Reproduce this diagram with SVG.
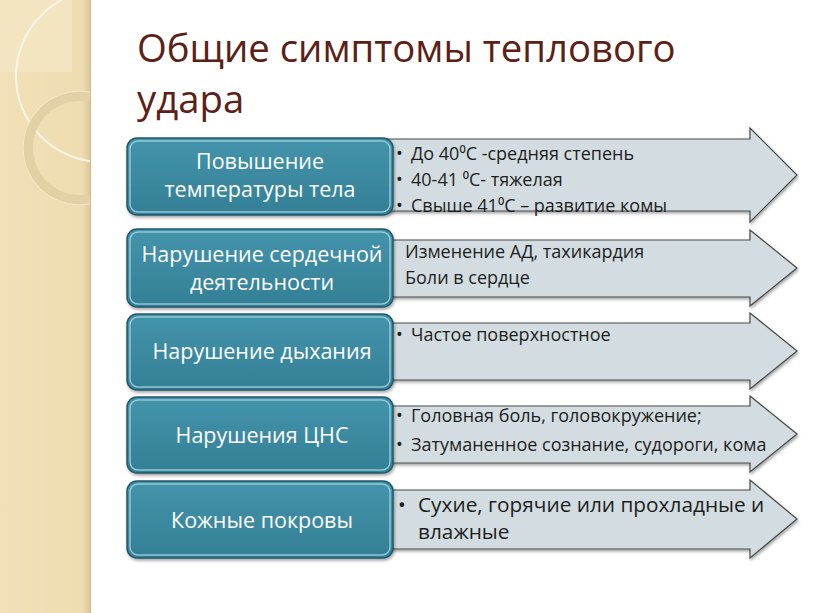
<svg xmlns="http://www.w3.org/2000/svg" width="816" height="613" viewBox="0 0 816 613">
<defs>
<linearGradient id="boxg" x1="0" y1="0" x2="0" y2="1">
<stop offset="0" stop-color="#4494ab"/>
<stop offset="1" stop-color="#337f96"/>
</linearGradient>
<linearGradient id="strip" x1="0" y1="0" x2="1" y2="0">
<stop offset="0" stop-color="#f1e0b8"/>
<stop offset="0.9" stop-color="#efdcb0"/>
<stop offset="1" stop-color="#d9c69a"/>
</linearGradient>
<clipPath id="sc"><rect x="0" y="0" width="90" height="613"/></clipPath>
<filter id="sh" x="-5%" y="-5%" width="115%" height="125%">
<feDropShadow dx="1" dy="2" stdDeviation="1.5" flood-color="#000" flood-opacity="0.35"/>
</filter>
</defs>
<style>
.box{fill:url(#boxg);stroke:#24596a;stroke-width:1.5;filter:url(#sh)}
.hl{fill:none;stroke:#a9d6e2;stroke-width:1.5;opacity:0.8}
.arr{fill:#d3dde1;stroke:#4a4a4a;stroke-width:1.2;filter:url(#sh)}
.bt{font-family:"Open Sans","Noto Sans",sans-serif;font-size:21.5px;fill:#fff;text-anchor:middle}
.at{font-family:"Open Sans","Noto Sans",sans-serif;font-size:18px;fill:#1e1e1e}
.at2{font-family:"Open Sans","Noto Sans",sans-serif;font-size:20.8px;fill:#1e1e1e}
.title{font-family:"Open Sans","Noto Sans",sans-serif;font-size:38.3px;fill:#5b2117}
</style>
<rect width="816" height="613" fill="#fff"/>
<g id="background">
<rect x="0" y="0" width="91" height="613" fill="url(#strip)"/>
<g clip-path="url(#sc)">
<rect x="0" y="0" width="72" height="72" fill="#f3e5c2"/>
<circle cx="102" cy="76" r="86" fill="none" stroke="#fbf5e6" stroke-width="2"/>
<circle cx="80" cy="148" r="52" fill="none" stroke="#e2d1a4" stroke-width="10"/>
<circle cx="80" cy="148" r="57" fill="none" stroke="#f6ebcd" stroke-width="1"/>
</g>
<line x1="90.5" y1="0" x2="90.5" y2="613" stroke="#cdb98c" stroke-width="1"/>
</g>
<g id="title">
<text class="title" x="137" y="62">Общие симптомы теплового</text>
<text class="title" x="137" y="113">удара</text>
</g>
<g id="connectors">
<path class="arr" d="M380,139 H750 V128 L797,175 L750,222 V211 H380 Z"/>
<path class="arr" d="M380,240 H750 V230 L797,268 L750,306 V297 H380 Z"/>
<path class="arr" d="M380,323 H750 V313 L797,351 L750,389 V380 H380 Z"/>
<path class="arr" d="M380,406 H750 V396 L797,434 L750,472 V463 H380 Z"/>
<path class="arr" d="M380,490 H750 V480 L797,519 L750,558 V549 H380 Z"/>
</g>
<g id="row1">
<rect class="box" x="127" y="138" width="266" height="77" rx="10"/>
<rect class="hl" x="130" y="141" width="260" height="71" rx="8"/>
<text class="bt" x="260" y="169">Повышение</text>
<text class="bt" x="260" y="197">температуры тела</text>
<text class="at" x="396" y="160">•</text><text class="at" x="411" y="160">До 40⁰С -средняя степень</text>
<text class="at" x="396" y="186">•</text><text class="at" x="411" y="186">40-41 ⁰С- тяжелая</text>
<text class="at" x="396" y="212">•</text><text class="at" x="411" y="212">Свыше 41⁰С – развитие комы</text>
</g>
<g id="row2">
<rect class="box" x="127" y="229" width="266" height="78" rx="10"/>
<rect class="hl" x="130" y="232" width="260" height="72" rx="8"/>
<text class="bt" x="262" y="262">Нарушение сердечной</text>
<text class="bt" x="262" y="290">деятельности</text>
<text class="at" x="405" y="258">Изменение АД, тахикардия</text>
<text class="at" x="405" y="284">Боли в сердце</text>
</g>
<g id="row3">
<rect class="box" x="127" y="314" width="266" height="76" rx="10"/>
<rect class="hl" x="130" y="317" width="260" height="70" rx="8"/>
<text class="bt" x="262" y="359">Нарушение дыхания</text>
<text class="at" x="396" y="341">•</text><text class="at" x="411" y="341">Частое поверхностное</text>
</g>
<g id="row4">
<rect class="box" x="127" y="397" width="266" height="76" rx="10"/>
<rect class="hl" x="130" y="400" width="260" height="70" rx="8"/>
<text class="bt" x="262" y="443">Нарушения ЦНС</text>
<text class="at" x="396" y="422">•</text><text class="at" x="411" y="422">Головная боль, головокружение;</text>
<text class="at" x="396" y="451">•</text><text class="at" x="411" y="451">Затуманенное сознание, судороги, кома</text>
</g>
<g id="row5">
<rect class="box" x="127" y="481" width="266" height="77" rx="10"/>
<rect class="hl" x="130" y="484" width="260" height="71" rx="8"/>
<text class="bt" x="262" y="528">Кожные покровы</text>
<text class="at2" x="398" y="512">•</text><text class="at2" x="418" y="512">Сухие, горячие или прохладные и</text>
<text class="at2" x="418" y="539">влажные</text>
</g>
</svg>
